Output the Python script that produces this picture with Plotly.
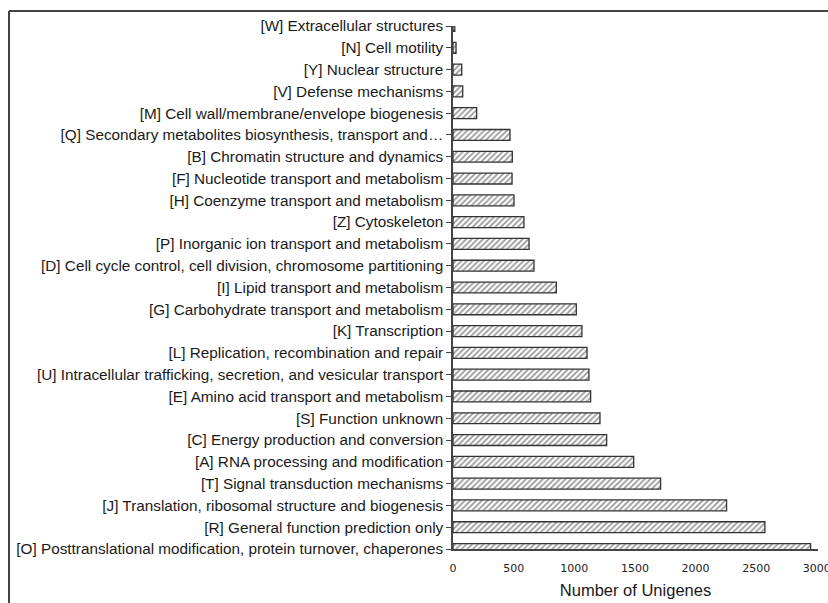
import plotly.graph_objects as go

categories = [
    "[W] Extracellular structures",
    "[N] Cell motility",
    "[Y] Nuclear structure",
    "[V] Defense mechanisms",
    "[M] Cell wall/membrane/envelope biogenesis",
    "[Q] Secondary metabolites biosynthesis, transport and\u2026",
    "[B] Chromatin structure and dynamics",
    "[F] Nucleotide transport and metabolism",
    "[H] Coenzyme transport and metabolism",
    "[Z] Cytoskeleton",
    "[P] Inorganic ion transport and metabolism",
    "[D] Cell cycle control, cell division, chromosome partitioning",
    "[I] Lipid transport and metabolism",
    "[G] Carbohydrate transport and metabolism",
    "[K] Transcription",
    "[L] Replication, recombination and repair",
    "[U] Intracellular trafficking, secretion, and vesicular transport",
    "[E] Amino acid transport and metabolism",
    "[S] Function unknown",
    "[C] Energy production and conversion",
    "[A] RNA processing and modification",
    "[T] Signal transduction mechanisms",
    "[J] Translation, ribosomal structure and biogenesis",
    "[R] General function prediction only",
    "[O] Posttranslational modification, protein turnover, chaperones",
]
values = [15, 25, 72, 80, 195, 470, 489, 487, 503, 585, 627, 668, 852, 1017,
          1063, 1105, 1121, 1135, 1212, 1267, 1490, 1712, 2256, 2572, 2949]
x_ticks = [0, 500, 1000, 1500, 2000, 2500, 3000]

fig = go.Figure(go.Bar(
    x=values, y=categories, orientation="h",
    marker=dict(color="white",
                line=dict(color="#333", width=1.3),
                pattern=dict(shape="/", fgcolor="#333", bgcolor="white",
                             size=4, solidity=0.45)),
    width=0.5,
))

fig.update_layout(
    width=828, height=603,
    margin=dict(l=453, r=10, t=26, b=54),
    plot_bgcolor="white", paper_bgcolor="white",
    showlegend=False,
    font=dict(family="Liberation Sans, Arial, sans-serif", size=15.3, color="#1a1a1a"),
    xaxis=dict(range=[0, 3010], tickvals=x_ticks, ticktext=[str(t) for t in x_ticks],
               showline=True, linecolor="#444", linewidth=1.5, showgrid=False,
               zeroline=False, ticks="", ticklabeloverflow="allow", ticklabelstandoff=8,
               automargin=False,
               tickfont=dict(family="DejaVu Sans, Verdana", size=11, color="#222"),
               title=dict(text="Number of Unigenes",
                          font=dict(size=16.5, family="Liberation Sans, Arial"), standoff=10)),
    yaxis=dict(type="category", categoryorder="array", categoryarray=categories,
               range=[24, 0], showline=True, linecolor="#444", linewidth=1.5,
               showgrid=False, zeroline=False, ticks="outside", ticklen=5,
               automargin=False,
               tickcolor="#444", tickwidth=1.2, tickfont=dict(size=15.3, color="#1a1a1a")),
    shapes=[
        dict(type="line", xref="paper", yref="paper",
             x0=(9 - 453) / 365, x1=(840 - 453) / 365,
             y0=(549 - 11) / 523, y1=(549 - 11) / 523,
             line=dict(color="#444", width=2)),
        dict(type="line", xref="paper", yref="paper",
             x0=(9 - 453) / 365, x1=(9 - 453) / 365,
             y0=(549 - 11) / 523, y1=(549 - 620) / 523,
             line=dict(color="#444", width=2)),
    ],
)

fig.write_html("out.html")
